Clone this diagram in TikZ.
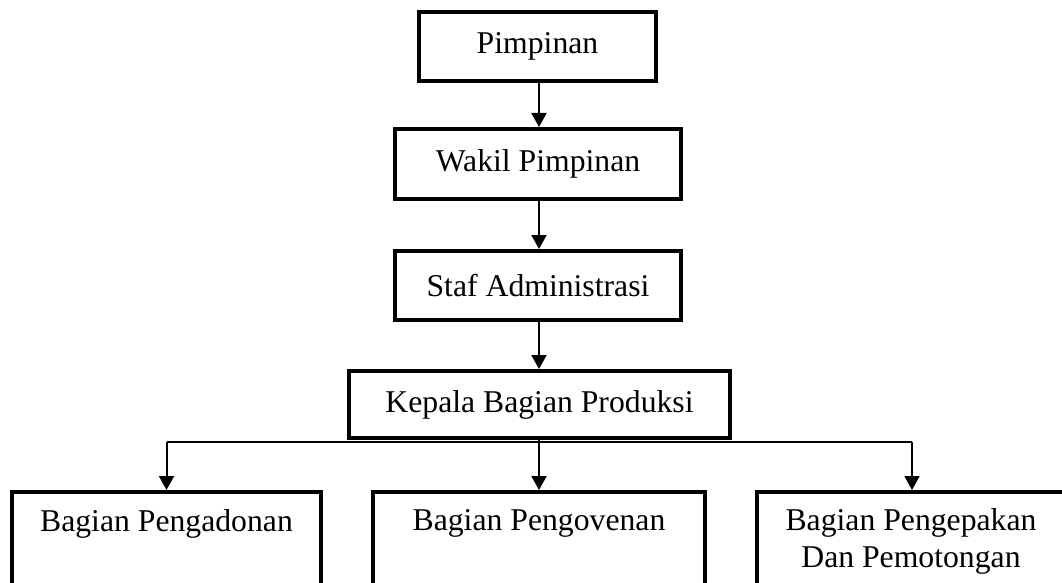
\documentclass[tikz,border=0pt]{standalone}
\usepackage{fontspec}
\setmainfont{Liberation Serif}
\usetikzlibrary{arrows.meta}
\begin{document}
\begin{tikzpicture}[x=1pt,y=-1pt,
  box/.style={draw=black, line width=4pt, rectangle, inner sep=0pt, fill=white},
  lbl/.style={inner sep=0pt, align=center, font=\fontsize{31.7}{37}\selectfont},
  arr/.style={draw=black, line width=2pt, -{Triangle[width=15pt,length=14pt]}}]
\useasboundingbox (0,0) rectangle (1062,583);
\clip (0,0) rectangle (1062,583);
\fill[white] (0,0) rectangle (1062,583);
% top chain
\node[box, minimum width=237pt, minimum height=69pt] (p) at (537.5,46.5) {};
\node[lbl] (pt) at (537.5,46.5) {Pimpinan};
\node[box, minimum width=286pt, minimum height=70pt] (w) at (538,164) {};
\node[lbl] (wt) at (538,164) {Wakil Pimpinan};
\node[box, minimum width=286pt, minimum height=69pt] (s) at (538,285.5) {};
\node[lbl] (st) at (538,285.5) {Staf Administrasi};
\node[box, minimum width=381pt, minimum height=67pt] (k) at (539.5,404.5) {};
\node[lbl] (kt) at (539.5,404.5) {Kepala Bagian Produksi};
% bottom boxes (run off the lower edge)
\node[box, anchor=north, minimum width=309pt, minimum height=130pt] (b1) at (166.5,490) {};
\node[lbl] (b1t) at (166.5,523.5) {Bagian Pengadonan};
\node[box, anchor=north, minimum width=332pt, minimum height=130pt] (b2) at (539,490) {};
\node[lbl] (b2t) at (539,523.5) {Bagian Pengovenan};
\node[box, anchor=north, minimum width=310pt, minimum height=130pt] (b3) at (912,490) {};
\node[lbl] (b3t) at (911,541) {Bagian Pengepakan\\Dan Pemotongan};
% connectors
\draw[arr] (p.south -| 539,0) -- (w.north -| 539,0);
\draw[arr] (w.south -| 539,0) -- (s.north -| 539,0);
\draw[arr] (s.south -| 539,0) -- (k.north -| 539,0);
\coordinate (j) at ([yshift=-1.5pt]k.south -| b2.north);
\draw[line width=2pt] (j -| b1.north) -- (j -| b3.north);
\draw[arr] (k.south -| b2.north) -- (b2.north);
\draw[arr] (j -| b1.north) -- (b1.north);
\draw[arr] (j -| b3.north) -- (b3.north);
\end{tikzpicture}
\end{document}
